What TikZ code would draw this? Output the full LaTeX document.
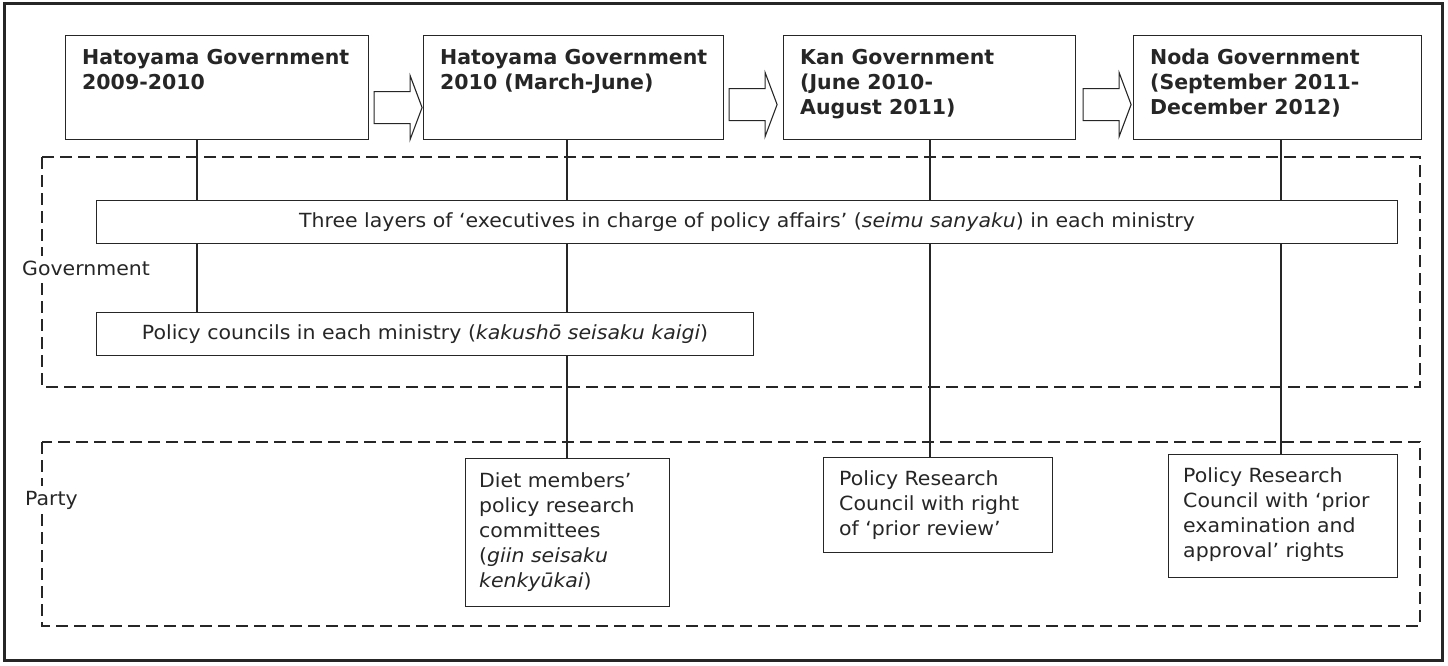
\documentclass[tikz,border=0pt]{standalone}
\usepackage{fontspec}
\setmainfont{DejaVu Sans}[FakeStretch=1.05]
\newfontfamily\titlefont{DejaVu Sans Bold}
\usetikzlibrary{calc}
\begin{document}
\begin{tikzpicture}[x=1pt,y=-1pt,
  ln/.style={line width=1.1pt, draw=black!85},
  box/.style={ln, fill=white, anchor=north west, inner sep=0pt},
  titletext/.style={anchor=north west, align=left, inner sep=0pt, font=\titlefont\fontsize{20.5}{25}\selectfont, text=black!85},
  bodytext/.style={anchor=north west, align=left, inner sep=0pt, font=\fontsize{19.5}{25}\selectfont, text=black!85},
  wide/.style={box, font=\fontsize{19.5}{22}\selectfont, text=black!85},
  zone/.style={ln, dash pattern=on 12pt off 6pt},
  zonelabel/.style={anchor=west, fill=white, draw=none, inner xsep=2pt, inner ysep=5pt, font=\fontsize{19.5}{22}\selectfont, text=black!85},
  blockarrow/.style={ln, fill=white, line join=miter}
]
\useasboundingbox (0,0) rectangle (1448,665);
\draw[line width=3pt, draw=black!85] (4.5,3.5) rectangle (1442.5,660);

% zones
\draw[zone] (42,157) rectangle (1420,387);
\draw[zone] (42,442) rectangle (1420,626);

% government boxes
\node[box, minimum width=303pt, minimum height=104pt] (g1) at (65,35) {};
\node[box, minimum width=300pt, minimum height=104pt] (g2) at (423,35) {};
\node[box, minimum width=292pt, minimum height=104pt] (g3) at (783,35) {};
\node[box, minimum width=288pt, minimum height=104pt] (g4) at (1133,35) {};

% connector start points
\coordinate (x1) at ([xshift=132pt]g1.south west);
\coordinate (x2) at ([xshift=144pt]g2.south west);
\coordinate (x3) at ([xshift=147pt]g3.south west);
\coordinate (x4) at ([xshift=148pt]g4.south west);

\node[box, minimum width=204pt, minimum height=148pt] (diet) at (465,458) {};
\node[box, minimum width=229pt, minimum height=95pt] (kan) at (823,457) {};
\node[box, minimum width=229pt, minimum height=123pt] (noda) at (1168,454) {};

% connectors (drawn before the wide boxes so these cover them)
\draw[ln] (x1) -- (x1 |- 0,312);
\draw[ln] (x2) -- (x2 |- diet.north);
\draw[ln] (x3) -- (x3 |- kan.north);
\draw[ln] (x4) -- (x4 |- noda.north);

\node[wide, minimum width=1301pt, minimum height=43pt] (layers) at (96,200)
  {Three layers of ‘executives in charge of policy affairs’ (\textit{seimu sanyaku}) in each ministry};
\node[wide, minimum width=657pt, minimum height=43pt] (pc) at (96,312)
  {Policy councils in each ministry (\textit{kakushō seisaku kaigi})};

% arrows
\draw[blockarrow] ([shift={(5,4)}]g1.east) -- ++(36,0) -- ++(0,-16) -- ++(12,32) -- ++(-12,32) -- ++(0,-16) -- ++(-36,0) -- cycle;
\draw[blockarrow] ([shift={(5,1)}]g2.east) -- ++(36,0) -- ++(0,-16) -- ++(12,32) -- ++(-12,32) -- ++(0,-16) -- ++(-36,0) -- cycle;
\draw[blockarrow] ([shift={(7,1)}]g3.east) -- ++(36,0) -- ++(0,-16) -- ++(12,32) -- ++(-12,32) -- ++(0,-16) -- ++(-36,0) -- cycle;

% texts
\node[titletext] (t1) at ([shift={(17,14)}]g1.north west) {Hatoyama Government\\2009-2010};
\node[titletext] (t2) at ([shift={(17,14)}]g2.north west) {Hatoyama Government\\2010 (March-June)};
\node[titletext] (t3) at ([shift={(17,14)}]g3.north west) {Kan Government\\(June 2010-\\August 2011)};
\node[titletext] (t4) at ([shift={(17,14)}]g4.north west) {Noda Government\\(September 2011-\\December 2012)};

\node[bodytext] (d1) at ([shift={(14,14)}]diet.north west) {Diet members’\\policy research\\committees\\(\textit{giin seisaku}\\\textit{kenkyūkai})};
\node[bodytext] (k1) at ([shift={(16,13)}]kan.north west) {Policy Research\\Council with right\\of ‘prior review’};
\node[bodytext] (n1) at ([shift={(15,13)}]noda.north west) {Policy Research\\Council with ‘prior\\examination and\\approval’ rights};

\node[zonelabel] (gov) at (20,268) {Government};
\node[zonelabel] (party) at (23,500) {Party};
\end{tikzpicture}
\end{document}
